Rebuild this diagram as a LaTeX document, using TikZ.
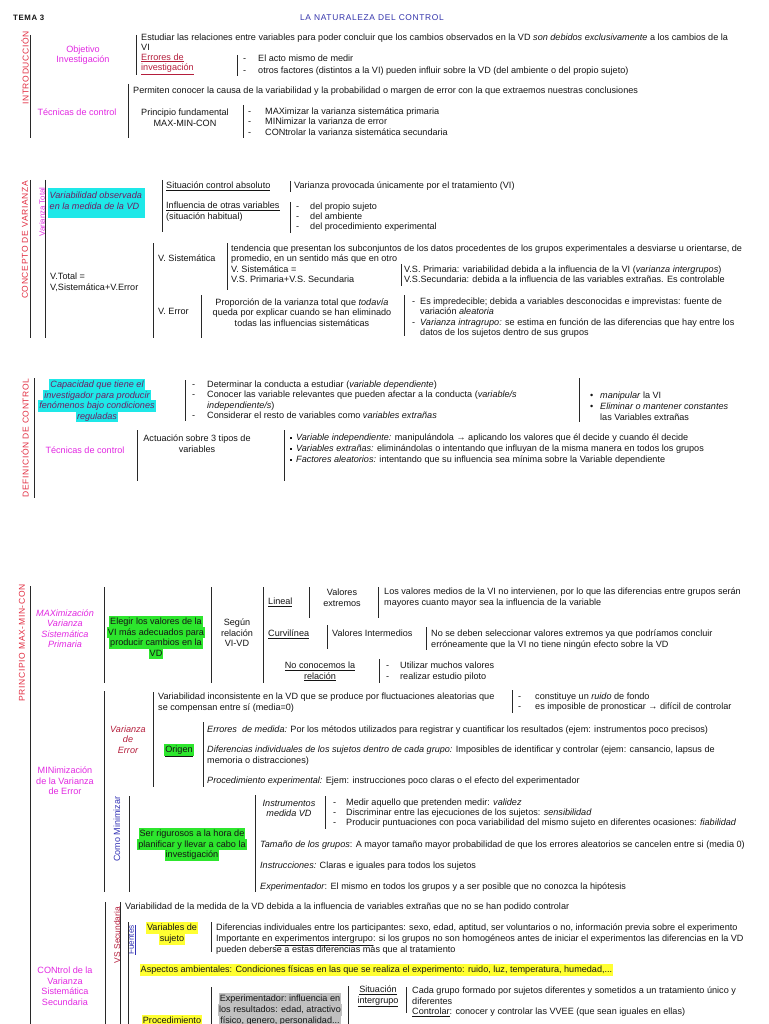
\documentclass[tikz,border=0pt]{standalone}
\usepackage{fontspec}
\setmainfont{Liberation Sans}
\newfontfamily\spc[LetterSpace=8]{Liberation Sans}
\newcommand\ff{\fontsize{9.1}{10.5}\selectfont}
\definecolor{ink}{RGB}{20,20,20}
\definecolor{barc}{RGB}{40,40,40}
\definecolor{secred}{RGB}{225,45,65}
\definecolor{mag}{RGB}{225,40,225}
\definecolor{ttlblue}{RGB}{50,50,170}
\definecolor{dkred}{RGB}{180,30,60}
\definecolor{hcyan}{RGB}{30,232,232}
\definecolor{hgreen}{RGB}{45,230,45}
\definecolor{hyellow}{RGB}{255,255,50}
\definecolor{hgray}{RGB}{192,192,192}
\definecolor{purp}{RGB}{110,30,100}
\definecolor{cobl}{RGB}{50,50,180}
\tikzset{
 tx/.style={inner sep=0pt, anchor=west, font=\ff, text=ink, text height=6.6pt, text depth=1.9pt},
 ctr/.style={tx, anchor=center, align=center, text height=, text depth=},
 lft/.style={tx, align=left, text height=, text depth=},
 bar/.style={draw=barc, line width=0.9pt},
 sec/.style={inner sep=0pt, rotate=90, anchor=center, font=\spc\fontsize{8.5}{10}\selectfont, text=secred},
 hl/.style={tx, anchor=center, inner xsep=1pt, inner ysep=0.4pt, text height=7.8pt, text depth=2.5pt},
 magt/.style={ctr, text=mag},
}
\begin{document}
\begin{tikzpicture}[x=1pt,y=-1pt]
\useasboundingbox (0,0) rectangle (768,1024);
% header
\node[tx, font=\spc\bfseries\fontsize{7.8}{9}\selectfont] (tema) at (13,18) {TEMA 3};
\node[ctr, font=\spc\fontsize{8.4}{9}\selectfont, text=ttlblue] (title) at (372,18) {LA NATURALEZA DEL CONTROL};

% ===== INTRODUCCION
\node[sec] (s1) at (25,68) {INTRODUCCIÓN};
\draw[bar] (30,35) -- (30,138);
\node[magt] (obj) at (83,55) {Objetivo\\Investigación};
\draw[bar] (136,35) -- (136,75);
\node[tx] (est1) at (141,38) {Estudiar las relaciones entre variables para poder concluir que los cambios observados en la VD \textit{son debidos exclusivamente} a los cambios de la};
\node[tx] (est2) at (141,48) {VI};
\node[lft, text=dkred] (err) at (141,64) {\underline{Errores de}\\\underline{investigación}};
\draw[bar] (237,55) -- (237,76);
\node[tx] (d1) at (243,59) {-};
\node[tx] (e1) at (258,59) {El acto mismo de medir};
\node[tx] (d2) at (243,71) {-};
\node[tx] (e2) at (258,71) {otros factores (distintos a la VI) pueden influir sobre la VD (del ambiente o del propio sujeto)};
\draw[bar] (128,84) -- (128,138);
\node[tx] (perm) at (133,91) {Permiten conocer la causa de la variabilidad y la probabilidad o margen de error con la que extraemos nuestras conclusiones};
\node[magt] (tec1) at (77,112) {Técnicas de control};
\node[ctr] (pf) at (185,117.5) {Principio fundamental\\MAX-MIN-CON};
\draw[bar] (243,105) -- (243,138);
\node[tx] (d3) at (248,112) {-};
\node[tx] (d4) at (248,122.5) {-};
\node[tx] (d5) at (248,133) {-};
\node[tx] (m1) at (265,112) {MAXimizar la varianza sistemática primaria};
\node[tx] (m2) at (265,122.5) {MINimizar la varianza de error};
\node[tx] (m3) at (265,133) {CONtrolar la varianza sistemática secundaria};

% ===== CONCEPTO DE VARIANZA
\node[sec] (s2) at (25,240) {CONCEPTO DE VARIANZA};
\draw[bar] (30,180) -- (30,338);
\draw[bar] (45,180) -- (45,338);
\node[sec, text=mag, font=\fontsize{7.8}{9}\selectfont] (vt) at (42,212) {Varianza Total};
\fill[hcyan] (48,188) rectangle (145,218);
\node[lft, text=purp, font=\ff\itshape] (vobs) at (49.5,201) {Variabilidad observada\\en la medida de la VD};
\draw[bar] (162,180) -- (162,232);
\node[tx] (sca) at (166,186) {\underline{Situación control absoluto}};
\draw[bar] (290,181) -- (290,192);
\node[tx] (vp) at (294,186) {Varianza provocada únicamente por el tratamiento (VI)};
\node[lft] (inf) at (166,211.5) {\underline{Influencia de otras variables}\\(situación habitual)};
\draw[bar] (290,202) -- (290,233);
\node[tx] (d6) at (296,207) {-};
\node[tx] (d7) at (296,217) {-};
\node[tx] (d8) at (296,227) {-};
\node[tx] (i1) at (310,207) {del propio sujeto};
\node[tx] (i2) at (310,217) {del ambiente};
\node[tx] (i3) at (310,227) {del procedimiento experimental};
\node[lft] (vtot) at (50,282.5) {V.Total =\\V,Sistemática+V.Error};
\draw[bar] (153,243) -- (153,338);
\node[tx] (vs) at (158,259) {V. Sistemática};
\draw[bar] (227,243) -- (227,290);
\node[tx] (t1) at (231,249) {tendencia que presentan los subconjuntos de los datos procedentes de los grupos experimentales a desviarse u orientarse, de};
\node[tx] (t2) at (231,259) {promedio, en un sentido más que en otro};
\node[tx] (t3) at (231,270) {V. Sistemática =};
\node[tx] (t4) at (231,280) {V.S. Primaria+V.S. Secundaria};
\draw[bar] (401,264) -- (401,286);
\node[tx] (t5) at (404,270) {V.S. Primaria: variabilidad debida a la influencia de la VI (\textit{varianza intergrupos})};
\node[tx] (t6) at (404,280) {V.S.Secundaria: debida a la influencia de las variables extrañas. Es controlable};
\node[tx] (ve) at (158,312) {V. Error};
\draw[bar] (201,295) -- (201,338);
\node[ctr] (prop) at (302,312.5) {Proporción de la varianza total que \textit{todavía}\\queda por explicar cuando se han eliminado\\todas las influencias sistemáticas};
\draw[bar] (404,295) -- (404,336);
\node[tx] (d9) at (412,302) {-};
\node[tx] (d10) at (412,323) {-};
\node[tx] (u1) at (420,302) {Es impredecible; debida a variables desconocidas e imprevistas: fuente de};
\node[tx] (u2) at (420,312) {variación \textit{aleatoria}};
\node[tx] (u3) at (420,323) {\textit{Varianza intragrupo:} se estima en función de las diferencias que hay entre los};
\node[tx] (u4) at (420,333) {datos de los sujetos dentro de sus grupos};

% ===== DEFINICION DE CONTROL
\node[sec] (s3) at (25,438) {DEFINICIÓN DE CONTROL};
\draw[bar] (34,378) -- (34,498);
\node[hl, fill=hcyan, text=purp, font=\ff\itshape] (c1) at (97,385) {Capacidad que tiene el};
\node[hl, fill=hcyan, text=purp, font=\ff\itshape] (c2) at (97,395.5) {investigador para producir};
\node[hl, fill=hcyan, text=purp, font=\ff\itshape] (c3) at (97,406) {fenómenos bajo condiciones};
\node[hl, fill=hcyan, text=purp, font=\ff\itshape] (c4) at (97,416.5) {reguladas};
\draw[bar] (185,380) -- (185,421);
\node[tx] (d11) at (192,385) {-};
\node[tx] (d12) at (192,395) {-};
\node[tx] (d13) at (192,416) {-};
\node[tx] (k1) at (207,385) {Determinar la conducta a estudiar (\textit{variable dependiente})};
\node[tx] (k2) at (207,395) {Conocer las variable relevantes que pueden afectar a la conducta (\textit{variable/s}};
\node[tx] (k3) at (207,406) {\textit{independiente/s})};
\node[tx] (k4) at (207,416) {Considerar el resto de variables como \textit{variables extrañas}};
\draw[bar] (579,378) -- (579,422);
\node[tx] (b1) at (590,396) {•};
\node[tx] (b2) at (590,407) {•};
\node[tx] (j1) at (600,396) {\textit{manipular} la VI};
\node[tx] (j2) at (600,407) {\textit{Eliminar o mantener constantes}};
\node[tx] (j3) at (600,418) {las Variables extrañas};
\node[magt] (tec2) at (85,450) {Técnicas de control};
\draw[bar] (137,430) -- (137,481);
\node[ctr] (act) at (197,443.5) {Actuación sobre 3 tipos de\\variables};
\draw[bar] (284,430) -- (284,481);
\node[tx] (q1) at (289.5,438) {\rule[1.5pt]{2pt}{2pt}};
\node[tx] (q2) at (289.5,449) {\rule[1.5pt]{2pt}{2pt}};
\node[tx] (q3) at (289.5,460) {\rule[1.5pt]{2pt}{2pt}};
\node[tx] (r1) at (296,438) {\textit{Variable independiente:} manipulándola → aplicando los valores que él decide y cuando él decide};
\node[tx] (r2) at (296,449) {\textit{Variables extrañas:} eliminándolas o intentando que influyan de la misma manera en todos los grupos};
\node[tx] (r3) at (296,460) {\textit{Factores aleatorios:} intentando que su influencia sea mínima sobre la Variable dependiente};

% ===== PRINCIPIO MAX-MIN-CON
\node[sec] (s4) at (22,643) {PRINCIPIO MAX-MIN-CON};
\draw[bar] (30,586) -- (30,1024);
\node[magt, font=\ff\itshape] (maxp) at (65,628.5) {MAXimización\\Varianza\\Sistemática\\Primaria};
\draw[bar] (104,587) -- (104,683);
\node[hl, fill=hgreen] (g1) at (156,622) {Elegir los valores de la};
\node[hl, fill=hgreen] (g2) at (156,632.5) {VI más adecuados para};
\node[hl, fill=hgreen] (g3) at (156,643) {producir cambios en la};
\node[hl, fill=hgreen] (g4) at (156,653.5) {VD};
\draw[bar] (211,587) -- (211,683);
\node[ctr] (seg) at (237,633) {Según\\relación\\VI-VD};
\draw[bar] (263,587) -- (263,683);
\node[tx] (lin) at (268,602) {\underline{Lineal}};
\draw[bar] (309,587) -- (309,618);
\node[ctr] (vext) at (342,597.5) {Valores\\extremos};
\draw[bar] (378,587) -- (378,618);
\node[tx] (l1) at (384,592) {Los valores medios de la VI no intervienen, por lo que las diferencias entre grupos serán};
\node[tx] (l2) at (384,603) {mayores cuanto mayor sea la influencia de la variable};
\node[tx] (cur) at (268,634) {\underline{Curvilínea}};
\draw[bar] (327,625) -- (327,649);
\node[tx] (vint) at (332,634) {Valores Intermedios};
\draw[bar] (426,627) -- (426,650);
\node[tx] (n1) at (431,634) {No se deben seleccionar valores extremos ya que podríamos concluir};
\node[tx] (n2) at (431,645) {erróneamente que la VI no tiene ningún efecto sobre la VD};
\node[ctr] (noc) at (320,671.5) {\underline{No conocemos la}\\\underline{relación}};
\draw[bar] (379,659) -- (379,683);
\node[tx] (d14) at (386,666) {-};
\node[tx] (d15) at (386,677) {-};
\node[tx] (w1) at (400,666) {Utilizar muchos valores};
\node[tx] (w2) at (400,677) {realizar estudio piloto};

% MIN
\draw[bar] (104,691) -- (104,892);
\node[magt] (minp) at (65,781) {MINimización\\de la Varianza\\de Error};
\node[ctr, text=dkred, font=\ff\itshape] (vde) at (128,739.5) {Varianza\\de\\Error};
\draw[bar] (153,692) -- (153,787);
\node[tx] (v1) at (158,697) {Variabilidad inconsistente en la VD que se produce por fluctuaciones aleatorias que};
\node[tx] (v2) at (158,708) {se compensan entre sí (media=0)};
\draw[bar] (512,690) -- (512,713);
\node[tx] (d16) at (518,697) {-};
\node[tx] (d17) at (518,707) {-};
\node[tx] (x1) at (535,697) {constituye un \textit{ruido} de fondo};
\node[tx] (x2) at (535,707) {es imposible de pronosticar → difícil de controlar};
\node[hl, fill=hgreen] (orig) at (179,750) {\underline{Origen}};
\draw[bar] (203,722) -- (203,787);
\node[tx] (o1) at (207,730) {\textit{Errores\ \ de medida:} Por los métodos utilizados para registrar y cuantificar los resultados (ejem: instrumentos poco precisos)};
\node[tx] (o2) at (207,750) {\textit{Diferencias individuales de los sujetos dentro de cada grupo:} Imposibles de identificar y controlar (ejem: cansancio, lapsus de};
\node[tx] (o3) at (207,761) {memoria o distracciones)};
\node[tx] (o4) at (207,781) {\textit{Procedimiento experimental:} Ejem: instrucciones poco claras o el efecto del experimentador};
\node[sec, text=cobl, font=\fontsize{9}{10}\selectfont] (como) at (117,829) {Como Minimizar};
\draw[bar] (129,796) -- (129,892);
\node[hl, fill=hgreen] (h1) at (192,834) {Ser rigurosos a la hora de};
\node[hl, fill=hgreen] (h2) at (192,844.5) {planificar y llevar a cabo la};
\node[hl, fill=hgreen] (h3) at (192,855) {investigación};
\draw[bar] (255,795) -- (255,892);
\node[ctr, font=\ff\itshape] (ins) at (289,808.5) {Instrumentos\\medida VD};
\draw[bar] (325,796) -- (325,829);
\node[tx] (d18) at (333,803) {-};
\node[tx] (d19) at (333,813) {-};
\node[tx] (d20) at (333,823) {-};
\node[tx] (y1) at (346,803) {Medir aquello que pretenden medir: \textit{validez}};
\node[tx] (y2) at (346,813) {Discriminar entre las ejecuciones de los sujetos: \textit{sensibilidad}};
\node[tx] (y3) at (346,823) {Producir puntuaciones con poca variabilidad del mismo sujeto en diferentes ocasiones: \textit{fiabilidad}};
\node[tx] (z1) at (260,845) {\textit{Tamaño de los grupos}: A mayor tamaño mayor probabilidad de que los errores aleatorios se cancelen entre si (media 0)};
\node[tx] (z2) at (260,866) {\textit{Instrucciones:} Claras e iguales para todos los sujetos};
\node[tx] (z3) at (260,887) {\textit{Experimentador}: El mismo en todos los grupos y a ser posible que no conozca la hipótesis};

% CON
\draw[bar] (105,902) -- (105,1024);
\node[magt] (conp) at (65,986) {CONtrol de la\\Varianza\\Sistemática\\Secundaria};
\node[sec, text=dkred, font=\fontsize{8.4}{10}\selectfont] (vss) at (117,935) {VS Secundaria};
\draw[bar] (120,902) -- (120,1024);
\node[tx] (vm) at (125,907) {Variabilidad de la medida de la VD debida a la influencia de variables extrañas que no se han podido controlar};
\node[sec, text=cobl, font=\fontsize{8.2}{10}\selectfont] (fue) at (132,940) {\underline{Fuentes}};
\draw[bar] (128.5,922) -- (128.5,1024);
\node[hl, fill=hyellow] (ys1) at (172,928) {Variables de};
\node[hl, fill=hyellow] (ys2) at (172,939) {sujeto};
\draw[bar] (211,922) -- (211,952);
\node[tx] (p1) at (216,928) {Diferencias individuales entre los participantes: sexo, edad, aptitud, ser voluntarios o no, información previa sobre el experimento};
\node[tx] (p2) at (216,939.5) {Importante en \underline{experimentos intergrupo}: si los grupos no son homogéneos antes de iniciar el experimentos las diferencias en la VD};
\node[tx] (p3) at (216,950) {pueden deberse a estas diferencias más que al tratamiento};
\node[hl, anchor=west, fill=hyellow, inner xsep=0.5pt] (amb) at (140,970) {Aspectos ambientales: Condiciones físicas en las que se realiza el experimento: ruido, luz, temperatura, humedad,...};
\draw[bar] (211,987) -- (211,1024);
\node[hl, fill=hyellow] (proc) at (172,1021) {Procedimiento};
\node[hl, fill=hgray] (gr1) at (280,999) {\underline{Experimentador:} influencia en};
\node[hl, fill=hgray] (gr2) at (280,1010) {los resultados: edad, atractivo};
\node[hl, fill=hgray] (gr3) at (280,1021) {físico, genero, personalidad...};
\draw[bar] (348,986) -- (348,1024);
\node[ctr] (sit) at (378,996.5) {\underline{Situación}\\\underline{intergrupo}};
\draw[bar] (406,987) -- (406,1013);
\node[tx] (cg1) at (412,991) {Cada grupo formado por sujetos diferentes y sometidos a un tratamiento único y};
\node[tx] (cg2) at (412,1002) {diferentes};
\node[tx] (cg3) at (412,1012) {\underline{Controlar}: conocer y controlar las VVEE (que sean iguales en ellas)};
\end{tikzpicture}
\end{document}
